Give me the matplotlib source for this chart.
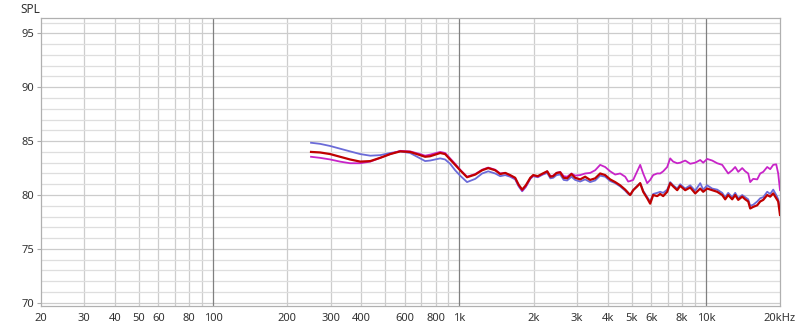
import matplotlib
matplotlib.use("Agg")
import matplotlib.pyplot as plt
import numpy as np

plt.rcParams['font.family'] = ['Noto Sans', 'DejaVu Sans']

freq = [250, 272, 299, 328, 360, 396, 435, 477, 524, 575, 631, 693, 726, 761, 836, 875, 917, 961,
        1007, 1074, 1160, 1237, 1309, 1397, 1464, 1535, 1607, 1684, 1740, 1798, 1860, 1940, 1993,
        2080, 2180, 2272, 2340, 2402, 2480, 2565, 2650, 2738, 2850, 2950, 3091, 3238, 3393, 3556,
        3726, 3904, 4091, 4287, 4492, 4707, 4842, 4932, 5073, 5266, 5416, 5570, 5782, 5946, 6115,
        6348, 6529, 6714, 6970, 7168, 7372, 7653, 7871, 8248, 8642, 9056, 9490, 9758, 10128, 10614,
        11121, 11653, 11985, 12327, 12794, 13160, 13536, 14050, 14451, 14862, 15140, 15572, 16164,
        16624, 17100, 17746, 18252, 18773, 19306, 19666, 20000]

spl_blue = [84.85, 84.75, 84.55, 84.3, 84.05, 83.8, 83.65, 83.7, 83.9, 84.05, 83.9, 83.4, 83.15, 83.2,
            83.4, 83.3, 82.9, 82.3, 81.8, 81.2, 81.5, 82.0, 82.2, 82.0, 81.75, 81.85, 81.7, 81.45,
            80.8, 80.35, 80.75, 81.5, 81.75, 81.65, 81.9, 82.05, 81.55, 81.6, 81.85, 81.9, 81.4,
            81.35, 81.7, 81.4, 81.25, 81.45, 81.2, 81.35, 81.8, 81.7, 81.3, 81.1, 80.8, 80.4, 80.1,
            80.0, 80.45, 80.85, 81.1, 80.4, 79.8, 79.4, 80.1, 80.2, 80.3, 80.2, 80.5, 81.2, 80.9,
            80.6, 81.0, 80.6, 80.9, 80.4, 81.1, 80.5, 80.9, 80.6, 80.5, 80.2, 79.8, 80.2, 79.8,
            80.2, 79.7, 80.0, 79.8, 79.6, 79.0, 79.1, 79.4, 79.7, 79.8, 80.3, 80.1, 80.5, 80.0,
            79.6, 78.6]

spl_magenta = [83.55, 83.45, 83.3, 83.1, 82.95, 82.95, 83.1, 83.45, 83.8, 84.1, 84.05, 83.8, 83.65,
               83.75, 84.0, 83.9, 83.4, 82.9, 82.35, 81.7, 81.95, 82.35, 82.55, 82.35, 82.0, 82.05,
               81.8, 81.55, 80.9, 80.4, 80.8, 81.55, 81.8, 81.7, 81.95, 82.2, 81.75, 81.8, 82.05,
               82.15, 81.75, 81.7, 82.0, 81.8, 81.85, 82.0, 82.05, 82.3, 82.8, 82.6, 82.2, 81.9,
               82.0, 81.7, 81.25, 81.3, 81.4, 82.2, 82.8, 82.0, 81.1, 81.4, 81.85, 82.0, 82.0, 82.2,
               82.6, 83.4, 83.1, 82.95, 83.0, 83.2, 82.9, 83.0, 83.25, 83.0, 83.35, 83.2, 82.95,
               82.8, 82.4, 82.0, 82.3, 82.6, 82.15, 82.5, 82.2, 82.0, 81.2, 81.5, 81.45, 82.0,
               82.15, 82.6, 82.4, 82.8, 82.85, 82.0, 80.45]

spl_red = [84.0, 83.95, 83.8, 83.55, 83.3, 83.1, 83.15, 83.45, 83.8, 84.05, 84.0, 83.7, 83.55, 83.6,
           83.9, 83.8, 83.3, 82.8, 82.3, 81.65, 81.9, 82.3, 82.5, 82.3, 81.95, 82.05, 81.85, 81.6,
           80.95, 80.5, 80.9, 81.6, 81.85, 81.75, 82.0, 82.2, 81.7, 81.75, 82.05, 82.1, 81.6,
           81.55, 81.95, 81.6, 81.45, 81.7, 81.4, 81.55, 82.0, 81.85, 81.45, 81.2, 80.9, 80.5,
           80.2, 80.0, 80.45, 80.8, 81.1, 80.3, 79.7, 79.2, 80.0, 79.9, 80.1, 79.9, 80.3, 81.1,
           80.8, 80.45, 80.85, 80.45, 80.7, 80.15, 80.6, 80.3, 80.6, 80.45, 80.3, 80.0, 79.6,
           80.0, 79.6, 80.0, 79.55, 79.85, 79.6, 79.4, 78.75, 78.9, 79.05, 79.4, 79.55, 80.0,
           79.85, 80.15, 79.7, 79.4, 78.15]

xtick_vals = [20, 30, 40, 50, 60, 80, 100, 200, 300, 400, 600, 800, 1000, 2000, 3000, 4000,
              5000, 6000, 8000, 10000, 20000]
xtick_labels = ['20', '30', '40', '50', '60', '80', '100', '200', '300', '400', '600', '800',
                '1k', '2k', '3k', '4k', '5k', '6k', '8k', '10k', '20kHz']
ytick_vals = [70, 75, 80, 85, 90, 95]

fig = plt.figure(figsize=(8.0, 3.31), dpi=100)
ax = fig.add_axes([0.0509, 0.0755, 0.975 - 0.0509, 0.9447 - 0.0755])
ax.set_xscale('log')
ax.set_xlim(20, 20000)
ax.set_ylim(69.7, 96.4)

# grid
for dec in [10, 100, 1000, 10000]:
    for m in range(2, 10):
        f = dec * m
        if 20 < f < 20000:
            ax.axvline(f, color='#cdcdcd', lw=0.9, zorder=0)
for f in [100, 1000, 10000]:
    ax.axvline(f, color='#808080', lw=0.9, zorder=0.5)
for v in range(70, 97):
    ax.axhline(v, color='#dedede' if v % 5 else '#cccccc', lw=0.9, zorder=0)

ax.plot(freq, spl_blue, color='#6b6bd8', lw=1.3, zorder=3)
ax.plot(freq, spl_magenta, color='#c824c8', lw=1.3, zorder=4)
ax.plot(freq, spl_red, color='#c00000', lw=1.6, zorder=5)

ax.set_xticks(xtick_vals)
ax.set_xticklabels(xtick_labels)
ax.xaxis.set_minor_locator(matplotlib.ticker.NullLocator())
ax.set_yticks(ytick_vals)
ax.tick_params(axis='x', length=0, pad=5, labelsize=8, colors='#333333')
ax.tick_params(axis='y', length=3, width=0.8, color='#aaaaaa', pad=1.5, labelsize=8,
               labelcolor='#333333')
for s in ax.spines.values():
    s.set_color('#b0b0b0')
    s.set_linewidth(0.9)

fig.text(0.025, 0.972, 'SPL', fontsize=8.5, color='#333333', ha='left', va='center')

fig.savefig('out.png', dpi=100)
